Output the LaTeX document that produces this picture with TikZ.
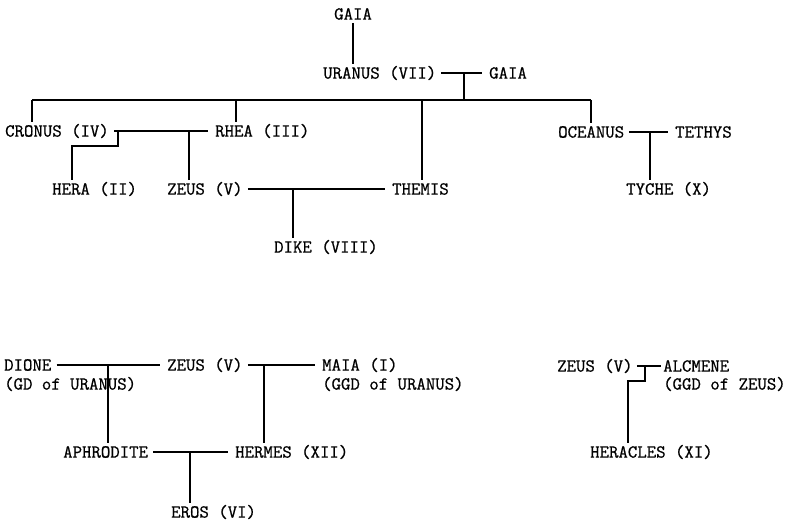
\documentclass[tikz,border=0pt]{standalone}
\usepackage{fontspec}
\newfontfamily\tw{Latin Modern Mono}[FakeBold=0.8]
\begin{document}
\begin{tikzpicture}[x=1pt,y=-1pt,
  lbl/.style={anchor=west, inner xsep=0pt, inner ysep=3pt, text height=11.2pt, text depth=0pt, font=\tw\fontsize{18.3}{20}\selectfont},
  ln/.style={line width=1.7pt},
  hl/.style={ln, shorten <=5pt, shorten >=7pt}]
\useasboundingbox (0,0) rectangle (793,521);
% nodes
\node[lbl] (gaiaA) at (334,14) {GAIA};
\node[lbl] (uranus) at (323,73) {URANUS (VII)};
\node[lbl] (gaiaB) at (489,73) {GAIA};
\node[lbl] (cronus) at (5,131) {CRONUS (IV)};
\node[lbl] (rhea) at (215,131) {RHEA (III)};
\node[lbl] (hera) at (52,189) {HERA (II)};
\node[lbl] (zeusA) at (167,189) {ZEUS (V)};
\node[lbl] (themis) at (392,189) {THEMIS};
\node[lbl] (dike) at (274,247) {DIKE (VIII)};
\node[lbl] (oceanus) at (558,132) {OCEANUS};
\node[lbl] (tethys) at (675,132) {TETHYS};
\node[lbl] (tyche) at (626,189) {TYCHE (X)};
\node[lbl] (dione) at (4,365) {DIONE};
\node[lbl] (dioneN) at (4,384) {(GD of URANUS)};
\node[lbl] (zeusB) at (167,365) {ZEUS (V)};
\node[lbl] (maia) at (322,365) {MAIA (I)};
\node[lbl] (maiaN) at (322,384) {(GGD of URANUS)};
\node[lbl] (aphro) at (63,452) {APHRODITE};
\node[lbl] (hermes) at (235,452) {HERMES (XII)};
\node[lbl] (eros) at (171,512) {EROS (VI)};
\node[lbl] (zeusC) at (557,366) {ZEUS (V)};
\node[lbl] (alcmene) at (663,366) {ALCMENE};
\node[lbl] (alcN) at (663,384) {(GGD of ZEUS)};
\node[lbl] (heracles) at (590,452) {HERACLES (XI)};
% junction coordinates
\coordinate (ug) at (464,73);
\coordinate (barL) at (32,100);
\coordinate (barR) at (591,100);
\coordinate (bRhea) at (236,100);
\coordinate (bThemis) at (422,100);
\coordinate (bMid) at (464,100);
\coordinate (cs) at (118,131);
\coordinate (cs2) at (72,146);
\coordinate (cz) at (189,131);
\coordinate (zt) at (293,189);
\coordinate (ot) at (650,132);
\coordinate (dz) at (108,365);
\coordinate (zm) at (264,365);
\coordinate (ah) at (190,452);
\coordinate (za) at (645,367);
\coordinate (zb) at (628,381);
% connectors
\draw[ln] (gaiaA.south) -- (gaiaA.south |- uranus.north);
\draw[hl] (uranus.east) -- (gaiaB.west);
\draw[ln] (ug) -- (bMid);
\draw[ln] (barL) -- (barR);
\draw[ln] (barL) -- (barL |- cronus.north);
\draw[ln] (bRhea) -- (bRhea |- rhea.north);
\draw[ln] (bThemis) -- (bThemis |- themis.north);
\draw[ln] (barR) -- (barR |- oceanus.north);
\draw[hl] (cronus.east) -- (rhea.west);
\draw[ln] (cs) |- (cs2) -- (cs2 |- hera.north);
\draw[ln] (cz) -- (cz |- zeusA.north);
\draw[hl] (zeusA.east) -- (themis.west);
\draw[ln] (zt) -- (zt |- dike.north);
\draw[hl] (oceanus.east) -- (tethys.west);
\draw[ln] (ot) -- (ot |- tyche.north);
\draw[hl] (dione.east) -- (zeusB.west);
\draw[ln] (dz) -- (dz |- aphro.north);
\draw[hl] (zeusB.east) -- (maia.west);
\draw[ln] (zm) -- (zm |- hermes.north);
\draw[hl] (aphro.east) -- (hermes.west);
\draw[ln] (ah) -- (ah |- eros.north);
\draw[ln, shorten <=4pt, shorten >=2pt] (zeusC.east) -- (alcmene.west);
\draw[ln] (za) |- (zb) -- (zb |- heracles.north);
\end{tikzpicture}
\end{document}
